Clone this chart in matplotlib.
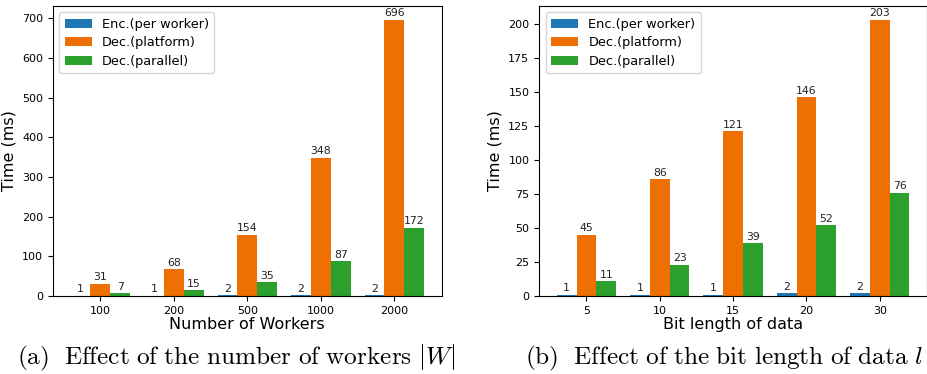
import numpy as np
import matplotlib
matplotlib.use('Agg')
import matplotlib.pyplot as plt

plt.rcParams['mathtext.fontset'] = 'cm'

# (a) number of workers
workers = ['100', '200', '500', '1000', '2000']
enc_a = [1, 1, 2, 2, 2]
dec_platform_a = [31, 68, 154, 348, 696]
dec_parallel_a = [7, 15, 35, 87, 172]

# (b) bit length of data
bits = ['5', '10', '15', '20', '30']
enc_b = [1, 1, 1, 2, 2]
dec_platform_b = [45, 86, 121, 146, 203]
dec_parallel_b = [11, 23, 39, 52, 76]

labels = ['Enc.(per worker)', 'Dec.(platform)', 'Dec.(parallel)']
colors = ['#1f77b4', '#ee6f02', '#2ca02c']
width = 0.27

fig = plt.figure(figsize=(9.28, 3.74), dpi=100)
ax1 = fig.add_axes([0.057, 0.2086, 0.419, 0.7754])
ax2 = fig.add_axes([0.581, 0.2086, 0.418, 0.7754])


def draw(ax, cats, series, xlabel):
    x = np.arange(len(cats))
    for i, (vals, lab, col) in enumerate(zip(series, labels, colors)):
        bars = ax.bar(x + (i - 1) * width, vals, width, label=lab, color=col)
        ax.bar_label(bars, labels=[str(v) for v in vals], padding=1, fontsize=7.8, color='#222222')
    ax.set_xticks(x)
    ax.set_xticklabels(cats)
    ax.tick_params(labelsize=8)
    ax.set_xlabel(xlabel, fontsize=11.5, labelpad=1)
    ax.set_ylabel('Time (ms)', fontsize=11.5, labelpad=4)
    ax.legend(loc='upper left', fontsize=9.3, handlelength=2.1, labelspacing=0.45)


draw(ax1, workers, [enc_a, dec_platform_a, dec_parallel_a], 'Number of Workers')
draw(ax2, bits, [enc_b, dec_platform_b, dec_parallel_b], 'Bit length of data')

fig.text(0.254, 0.042, r'$\mathrm{(a)\ \ Effect\ of\ the\ number\ of\ workers\ }|W|$',
         fontsize=18.2, ha='center', va='center')
fig.text(0.7797, 0.042, r'$\mathrm{(b)\ \ Effect\ of\ the\ bit\ length\ of\ data\ }l$',
         fontsize=18.2, ha='center', va='center')

fig.savefig('out.png', dpi=100)
